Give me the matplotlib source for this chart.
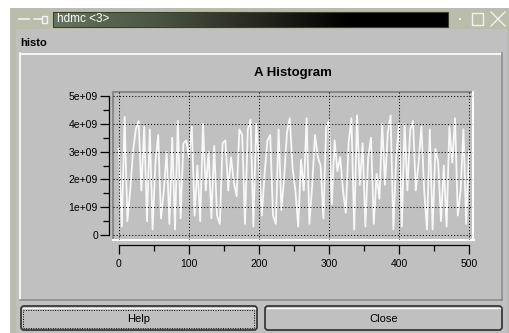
import numpy as np
import matplotlib.pyplot as plt
from matplotlib.patches import Rectangle, FancyBboxPatch
from matplotlib.colors import LinearSegmentedColormap
from matplotlib.ticker import FixedLocator, FixedFormatter

plt.rcParams['font.family'] = ['Liberation Sans', 'DejaVu Sans']

## данные гистограммы: значения в единицах 1e9, бины с шагом 4
bin_step = 4
heights = [3.1, 0.3, 4.25, 0.5, 1.6, 3.0, 3.8, 4.1, 1.6, 3.9, 0.5, 3.8, 0.2, 2.6, 3.6, 0.6,
           1.6, 3.0, 0.4, 3.5, 0.2, 4.1, 0.6, 3.3, 3.4, 2.8, 3.9, 0.7, 2.5, 0.5, 4.0,
           1.6, 3.0, 0.6, 3.2, 0.7, 0.4, 3.3, 3.4, 1.6, 2.8, 1.9, 1.4, 3.8, 3.6, 0.4, 3.8,
           4.15, 0.3, 4.0, 2.6, 0.7, 2.2, 3.4, 3.6, 0.7, 0.4, 3.8, 0.9, 2.1, 3.7, 4.2,
           2.4, 1.6, 0.3, 2.7, 1.6, 4.2, 0.4, 1.8, 3.6, 2.8, 2.5, 0.6, 3.9, 4.1, 1.1, 3.4,
           2.3, 2.8, 1.6, 0.8, 3.3, 4.2, 0.2, 4.3, 1.8, 3.3, 0.3, 2.8, 3.5, 0.4, 2.2, 1.3,
           4.0, 1.8, 3.7, 4.3, 0.2, 2.8, 4.0, 0.3, 4.0, 1.6, 3.8, 4.1, 1.6, 2.6, 3.9, 1.6,
           0.2, 3.8, 0.2, 3.1, 2.6, 0.5, 2.5, 0.3, 3.9, 2.6, 4.2, 0.7, 1.6, 3.8, 0.4, 3.0]

x_major = [0, 100, 200, 300, 400, 500]
x_minor = [50, 150, 250, 350, 450]
x_labels = ['0', '100', '200', '300', '400', '500']
y_major = [0, 1e9, 2e9, 3e9, 4e9, 5e9]
y_minor = [0.5e9, 1.5e9, 2.5e9, 3.5e9, 4.5e9]
y_labels = ['0', '1e+09', '2e+09', '3e+09', '4e+09', '5e+09']

chart_title = 'A Histogram'
panel_name = 'histo'
window_title = 'hdmc <3>'

W, H = 510, 333
GRAY = '#c0c0c0'
FRAME = '#b9bda9'

fig = plt.figure(figsize=(W / 100, H / 100), dpi=100)
fig.patch.set_facecolor('white')

# окно (рисуем в пикселях)
bg = fig.add_axes([0, 0, 1, 1])
bg.axis('off')
bg.add_patch(Rectangle((10, 8), 500, 325, fc=FRAME, ec='none'))
bg.add_patch(Rectangle((16, 29), 491, 304, fc=GRAY, ec='none'))

# заголовок окна
cmap = LinearSegmentedColormap.from_list('tb', ['#66745d', '#4d5645', '#2a2b22', '#000000', '#000000'])
bg.imshow(np.linspace(0, 1, 256)[None, :], extent=(53, 448, 27, 12), cmap=cmap, aspect='auto', zorder=2)
bg.add_patch(Rectangle((53, 12), 395, 15, fc='none', ec='#3a3f33', lw=0.8, zorder=3))
bg.text(57, 19.5, window_title, color='white', fontsize=8.5, va='center', ha='left', zorder=4)
bg.plot([19, 29], [19, 19], color='#f2f2f2', lw=1.2)
bg.plot([34, 42], [19, 19], color='#f2f2f2', lw=1.2)
bg.add_patch(Rectangle((42, 15.5), 5, 7, fc='none', ec='#f2f2f2', lw=1))
bg.add_patch(Rectangle((459, 18), 2, 2, fc='#f2f2f2', ec='none'))
bg.add_patch(Rectangle((472, 13), 11, 12, fc='none', ec='#f2f2f2', lw=1))
bg.plot([491, 505], [12, 26], color='#f2f2f2', lw=1)
bg.plot([491, 505], [26, 12], color='#f2f2f2', lw=1)

bg.text(20, 43, panel_name, fontsize=8, fontweight='bold', va='center', ha='left')

# панель
bg.plot([20, 502], [53.5, 53.5], color='white', lw=1.2)
bg.plot([20.5, 20.5], [53, 300], color='white', lw=1.2)
bg.plot([20, 502], [299.5, 299.5], color='#8c8c8c', lw=1.2)
bg.plot([502, 502], [53, 300], color='#8c8c8c', lw=1.2)

bg.text(293, 73, chart_title, fontsize=9.5, fontweight='bold', ha='center', va='center')

# рамка графика
bg.plot([113, 473], [92, 92], color='#8a8a8a', lw=1.5)
bg.plot([113, 113], [92, 240], color='#8a8a8a', lw=1.5)
bg.plot([113, 474], [240, 240], color='white', lw=1.5)
bg.plot([473.5, 473.5], [92, 240], color='white', lw=1.5)

# кнопки
for x0, x1, label, focus in [(20, 258, 'Help', True), (264, 503, 'Close', False)]:
    bg.add_patch(FancyBboxPatch((x0 + 1, 306), x1 - x0 - 2, 24, boxstyle='round,pad=0,rounding_size=3',
                                fc=GRAY, ec='#2e2e2e', lw=1.2))
    bg.plot([x0 + 3, x1 - 3], [307.5, 307.5], color='white', lw=0.9)
    if focus:
        bg.add_patch(Rectangle((x0 + 3.5, 309.5), x1 - x0 - 7, 18, fc='none', ec='black',
                               lw=0.7, ls=(0, (1, 1.5))))
    bg.text((x0 + x1) / 2, 318.5, label, fontsize=8, ha='center', va='center')

bg.set_xlim(0, W)
bg.set_ylim(H, 0)

# сам график
ax = fig.add_axes([113 / W, (H - 240) / H, 360 / W, 148 / H])
ax.patch.set_visible(False)
x = np.arange(len(heights)) * bin_step
y = np.array(heights) * 1e9
ax.plot(x, y, color='#f8f8f8', lw=1.3, clip_on=False)

ax.set_xlim(-6 / 0.7, 354 / 0.7)
ax.set_ylim(-5 / 27.8 * 1e9, 143 / 27.8 * 1e9)

for s in ['top', 'right']:
    ax.spines[s].set_visible(False)
ax.spines['left'].set_position(('outward', 4 * 0.72))
ax.spines['left'].set_bounds(0, 5e9)
ax.spines['bottom'].set_position(('outward', 5 * 0.72))
ax.spines['bottom'].set_bounds(0, 500)
for s in ['left', 'bottom']:
    ax.spines[s].set_linewidth(0.9)

ax.xaxis.set_major_locator(FixedLocator(x_major))
ax.xaxis.set_major_formatter(FixedFormatter(x_labels))
ax.xaxis.set_minor_locator(FixedLocator(x_minor))
ax.yaxis.set_major_locator(FixedLocator(y_major))
ax.yaxis.set_major_formatter(FixedFormatter(y_labels))
ax.yaxis.set_minor_locator(FixedLocator(y_minor))

ax.tick_params(which='major', length=6.5, width=0.9, direction='out', labelsize=7.5)
ax.tick_params(which='minor', length=4, width=0.9, direction='out')
ax.tick_params(axis='y', pad=1.5)
ax.tick_params(axis='x', pad=3.5)

ax.grid(True, which='major', color='black', linestyle=(0, (1, 2)), lw=0.75)
ax.set_axisbelow(False)

fig.savefig('out.png', dpi=100)
